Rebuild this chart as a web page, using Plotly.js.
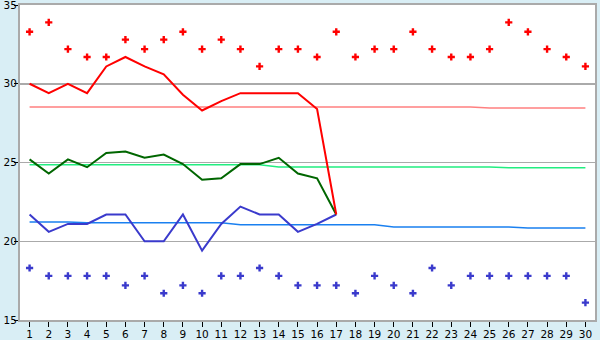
<!DOCTYPE html>
<html>
<head>
<meta charset="utf-8">
<script src="https://cdn.plot.ly/plotly-3.0.1.min.js"></script>
<style>html,body{margin:0;padding:0;background:#d9eef5;}#chart{width:600px;height:340px;}</style>
</head>
<body>
<div id="chart"></div>
<script>
const days = Array.from({length: 30}, (_, i) => i + 1);
const recordHigh = [33.3,33.9,32.2,31.7,31.7,32.8,32.2,32.8,33.3,32.2,32.8,32.2,31.1,32.2,32.2,31.7,33.3,31.7,32.2,32.2,33.3,32.2,31.7,31.7,32.2,33.9,33.3,32.2,31.7,31.1];
const recordLow = [18.3,17.8,17.8,17.8,17.8,17.2,17.8,16.7,17.2,16.7,17.8,17.8,18.3,17.8,17.2,17.2,17.2,16.7,17.8,17.2,16.7,18.3,17.2,17.8,17.8,17.8,17.8,17.8,17.8,16.1];
const actualHigh = [30.0,29.4,30.0,29.4,31.1,31.7,31.1,30.6,29.3,28.3,28.9,29.4,29.4,29.4,29.4,28.4,21.7,null,null,null,null,null,null,null,null,null,null,null,null,null];
const actualMean = [25.2,24.3,25.2,24.7,25.6,25.7,25.3,25.5,24.9,23.9,24.0,24.9,24.9,25.3,24.3,24.0,21.7,null,null,null,null,null,null,null,null,null,null,null,null,null];
const actualLow = [21.7,20.6,21.1,21.1,21.7,21.7,20.0,20.0,21.7,19.4,21.1,22.2,21.7,21.7,20.6,21.1,21.7,null,null,null,null,null,null,null,null,null,null,null,null,null];
const normalHigh = [28.52,28.52,28.52,28.52,28.52,28.52,28.52,28.52,28.52,28.52,28.52,28.52,28.52,28.52,28.52,28.52,28.52,28.52,28.52,28.52,28.52,28.52,28.52,28.52,28.46,28.46,28.46,28.46,28.46,28.46];
const normalMean = [24.86,24.86,24.86,24.86,24.86,24.86,24.86,24.86,24.86,24.86,24.86,24.86,24.86,24.72,24.72,24.72,24.72,24.72,24.72,24.72,24.72,24.72,24.72,24.72,24.72,24.66,24.66,24.66,24.66,24.66];
const normalLow = [21.22,21.22,21.22,21.17,21.17,21.17,21.17,21.17,21.17,21.17,21.17,21.05,21.05,21.05,21.05,21.05,21.05,21.05,21.05,20.9,20.9,20.9,20.9,20.9,20.9,20.9,20.84,20.84,20.84,20.84];
const xTickLabels = days.map(String);
const yTicks = [15, 20, 25, 30, 35];

const traces = [
  {x: days, y: normalHigh, mode: 'lines', line: {color: '#ff8080', width: 1.5}},
  {x: days, y: normalMean, mode: 'lines', line: {color: '#22ee80', width: 1.5}},
  {x: days, y: normalLow, mode: 'lines', line: {color: '#1a80f0', width: 1.5}},
  {x: days, y: recordHigh, mode: 'markers', marker: {symbol: 'cross', size: 6, color: '#ff0000'}},
  {x: days, y: recordLow, mode: 'markers', marker: {symbol: 'cross', size: 6, color: '#3a3acc'}},
  {x: days, y: actualLow, mode: 'lines', line: {color: '#3a3acc', width: 2}},
  {x: days, y: actualMean, mode: 'lines', line: {color: '#006600', width: 2}},
  {x: days, y: actualHigh, mode: 'lines', line: {color: '#ff0000', width: 2}}
];

const layout = {
  width: 600, height: 340,
  margin: {l: 20, r: 5, t: 5, b: 20, pad: 0},
  paper_bgcolor: '#d9eef5',
  plot_bgcolor: '#ffffff',
  showlegend: false,
  font: {family: 'DejaVu Sans', size: 10, color: '#000000'},
  xaxis: {
    range: [0.5, 30.5], tickvals: days, ticktext: xTickLabels,
    showgrid: false, zeroline: false,
    showline: true, linecolor: '#aaaaaa', linewidth: 2, mirror: true,
    ticks: 'outside', ticklen: 5, tickcolor: '#000000', tickwidth: 1,
    ticklabelstandoff: -2, ticklabeloverflow: 'allow',
    tickfont: {family: 'DejaVu Sans', size: 10.5}
  },
  yaxis: {
    range: [15, 35], tickvals: yTicks,
    showgrid: true, gridcolor: '#aaaaaa', gridwidth: 1.5, zeroline: false,
    showline: true, linecolor: '#aaaaaa', linewidth: 2, mirror: true,
    ticks: 'outside', ticklen: 4, tickcolor: '#000000', tickwidth: 1,
    ticklabelstandoff: -5, ticklabeloverflow: 'allow',
    tickfont: {family: 'DejaVu Sans', size: 10.5}
  }
};

Plotly.newPlot('chart', traces, layout, {displayModeBar: false, staticPlot: true});
</script>
</body>
</html>
